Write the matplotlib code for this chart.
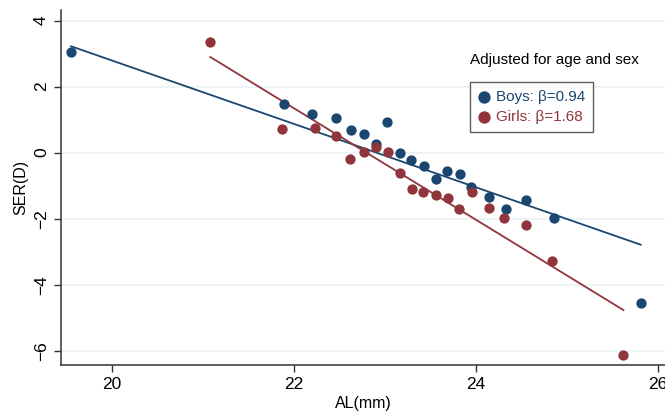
#!/usr/bin/env python
# SER vs axial length, boys and girls, with fitted lines

import numpy as np
import matplotlib.pyplot as plt

plt.rcParams['font.family'] = ['Liberation Sans', 'DejaVu Sans']

# binned means
boys_al = [19.55, 21.89, 22.20, 22.46, 22.63, 22.77, 22.90, 23.02, 23.16, 23.29,
           23.43, 23.56, 23.68, 23.82, 23.95, 24.14, 24.33, 24.55, 24.86, 25.81]
boys_ser = [3.05, 1.47, 1.17, 1.06, 0.70, 0.57, 0.26, 0.92, 0.00, -0.22,
            -0.41, -0.80, -0.55, -0.65, -1.05, -1.35, -1.71, -1.43, -1.99, -4.55]
girls_al = [21.08, 21.87, 22.23, 22.46, 22.62, 22.77, 22.90, 23.03, 23.16, 23.30,
            23.42, 23.56, 23.69, 23.81, 23.96, 24.14, 24.31, 24.55, 24.83, 25.62]
girls_ser = [3.36, 0.71, 0.75, 0.49, -0.19, 0.01, 0.18, 0.03, -0.61, -1.10,
             -1.18, -1.29, -1.38, -1.72, -1.18, -1.69, -1.99, -2.19, -3.27, -6.12]

# fitted lines: intercept, slope
boys_fit = (21.99, -0.96)
girls_fit = (38.48, -1.688)

boys_label = 'Boys: β=0.94'
girls_label = 'Girls: β=1.68'
note = 'Adjusted for age and sex'

blue = '#1a476f'
red = '#90353b'

fig = plt.figure(figsize=(6.65, 4.12), dpi=100)
ax = fig.add_axes([0.0913, 0.1141, 0.9087, 0.8616])

for y in [-6, -4, -2, 0, 2, 4]:
    ax.axhline(y, color='#eaf2f3', lw=1.2, zorder=0)

for xs, ys, fit, col, lab in [(boys_al, boys_ser, boys_fit, blue, boys_label),
                              (girls_al, girls_ser, girls_fit, red, girls_label)]:
    ax.scatter(xs, ys, s=55, color=col, zorder=3, label=lab, linewidths=0)
    xl = np.array([min(xs), max(xs)])
    ax.plot(xl, fit[0] + fit[1] * xl, color=col, lw=1.3, zorder=2)

ax.set_xlim(19.436, 26.077)
ax.set_ylim(-6.43, 4.32)
ax.set_xticks([20, 22, 24, 26])
ax.set_yticks([-6, -4, -2, 0, 2, 4])
ax.tick_params(axis='both', labelsize=12.5, direction='out', length=5,
               width=1, color='#333333')
for lbl in ax.get_yticklabels():
    lbl.set_rotation(90)
    lbl.set_va('center')

for s in ['top', 'right']:
    ax.spines[s].set_visible(False)
for s in ['left', 'bottom']:
    ax.spines[s].set_color('#333333')
    ax.spines[s].set_linewidth(1.1)

ax.set_xlabel('AL(mm)', fontsize=11.5, labelpad=3)
ax.set_ylabel('SER(D)', fontsize=11.5, labelpad=4)

ax.text(0.677, 0.859, note, transform=ax.transAxes, fontsize=11,
        va='center', ha='left')
leg = ax.legend(loc='upper left', bbox_to_anchor=(0.677, 0.796), fontsize=11,
                frameon=True, fancybox=False, edgecolor='#333333',
                handletextpad=0.3, borderpad=0.5, labelspacing=0.42,
                handlelength=0.9, borderaxespad=0, scatterpoints=1,
                markerscale=1.2)
leg.get_frame().set_linewidth(1.0)
for t, c in zip(leg.get_texts(), [blue, red]):
    t.set_color(c)

fig.savefig('out.png', dpi=100)
